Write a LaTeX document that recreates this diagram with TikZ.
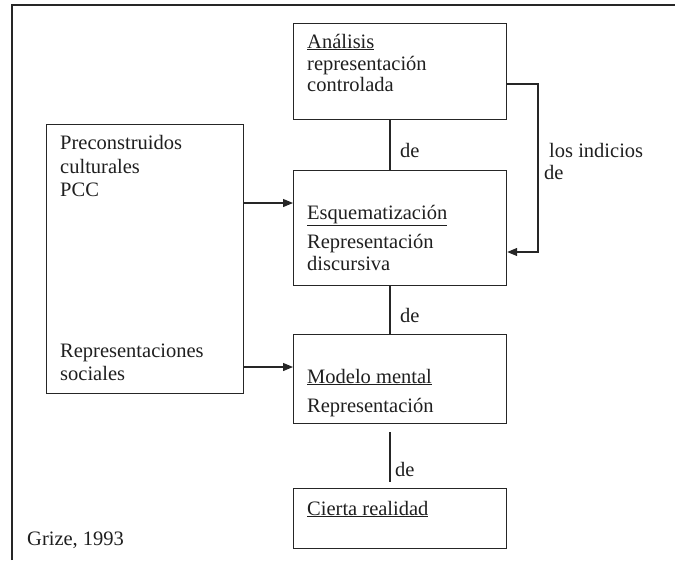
\documentclass[tikz,border=0pt]{standalone}
\usepackage{fontspec}
\setmainfont{Liberation Serif}
\usetikzlibrary{arrows.meta}
\begin{document}
\begin{tikzpicture}[x=1pt,y=-1pt,
  box/.style={draw=black!85,line width=1.2pt,rectangle,inner sep=0pt,anchor=north west},
  txt/.style={anchor=base west,inner sep=0pt,font=\fontsize{20.5}{24}\selectfont,text=black!88},
  conn/.style={draw=black!85,line width=1.2pt},
  arr/.style={conn,-{Triangle[length=10pt,width=8pt]}},
  frame/.style={draw=black!85,line width=1.8pt}]
\useasboundingbox (0,0) rectangle (675,560);
\draw[frame] (12,560) -- (12,5) -- (675,5);
% boxes
\node[box,minimum width=213pt,minimum height=96pt] (ana) at (293,23) {};
\node[box,minimum width=213pt,minimum height=115pt] (esq) at (293,170) {};
\node[box,minimum width=213pt,minimum height=89pt] (mod) at (293,334) {};
\node[box,minimum width=213pt,minimum height=60pt] (cie) at (293,488) {};
\node[box,minimum width=197pt,minimum height=269pt] (pcc) at (46,124) {};
% texts
\node[txt] (t1) at (307,48) {\underline{Análisis}};
\node[txt] (t2) at (307,70) {representación};
\node[txt] (t3) at (307,91) {controlada};
\node[txt] (t4) at (307,219) {\underline{Esquematización}};
\node[txt] (t5) at (307,248) {Representación};
\node[txt] (t6) at (307,270) {discursiva};
\node[txt] (t7) at (307,383) {\underline{Modelo mental}};
\node[txt] (t8) at (307,412) {Representación};
\node[txt] (t9) at (307,515) {\underline{Cierta realidad}};
\node[txt] (p1) at (60,149) {Preconstruidos};
\node[txt] (p2) at (60,173) {culturales};
\node[txt] (p3) at (60,196) {PCC};
\node[txt] (p4) at (60,357) {Representaciones};
\node[txt] (p5) at (60,380) {sociales};
\node[txt] (d1) at (400,157) {de};
\node[txt] (d2) at (400,322) {de};
\node[txt] (d3) at (395,476) {de};
\node[txt] (l1) at (549,157) {los indicios};
\node[txt] (l2) at (544,179) {de};
\node[txt] (g) at (27,545) {Grize, 1993};
% connectors
\coordinate (vx) at (390,0);
\draw[conn] (ana.south -| vx) -- (esq.north -| vx);
\draw[conn] (esq.south -| vx) -- (mod.north -| vx);
\coordinate (f1) at (390,432);
\coordinate (f2) at (390,482);
\draw[conn] (f1) -- (f2);
\coordinate (r1) at (538,84);
\coordinate (r2) at (538,252);
\draw[arr] (r1 -| ana.east) -- (r1) -- (r2) -- (r2 -| esq.east);
\coordinate (a1) at (0,203);
\coordinate (a2) at (0,367);
\draw[arr] (a1 -| pcc.east) -- (a1 -| esq.west);
\draw[arr] (a2 -| pcc.east) -- (a2 -| mod.west);
\end{tikzpicture}
\end{document}
